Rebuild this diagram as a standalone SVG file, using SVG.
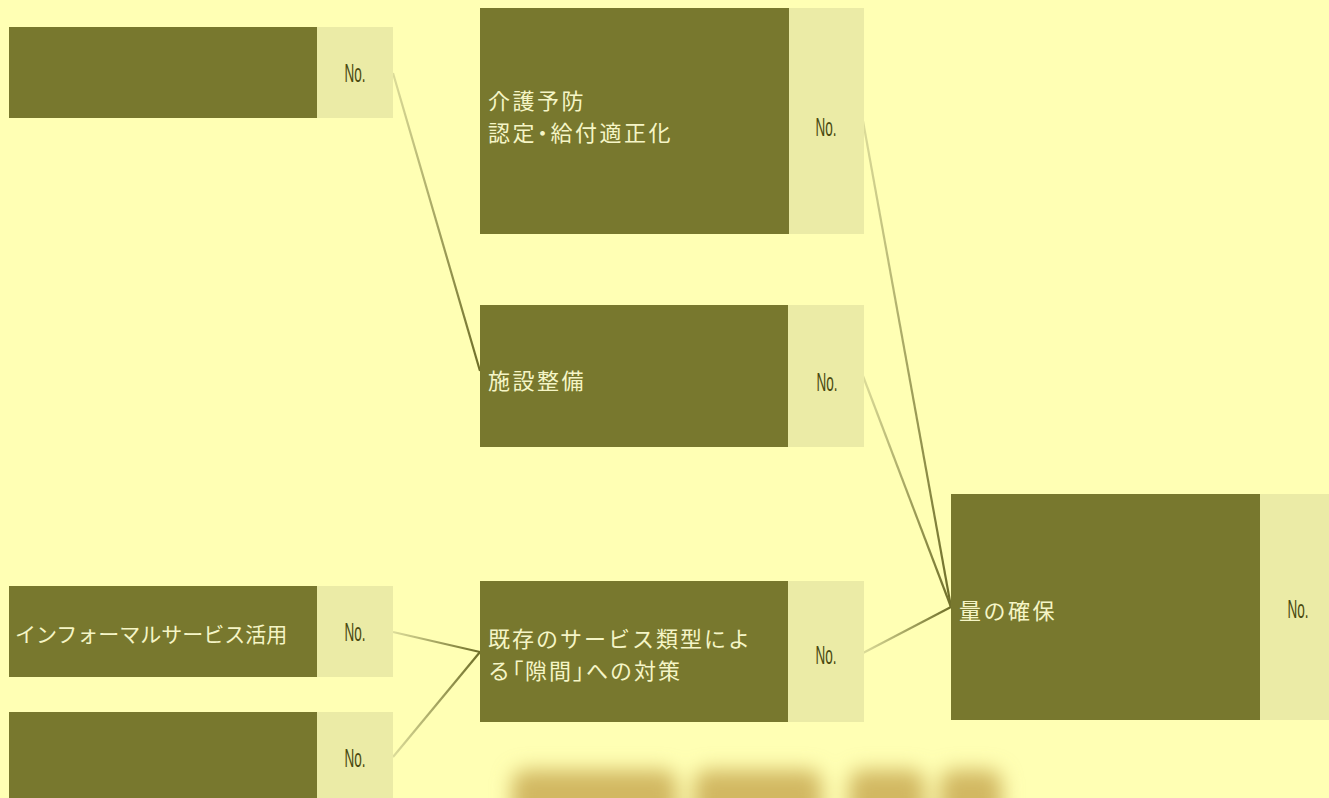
<svg xmlns="http://www.w3.org/2000/svg" xmlns:xlink="http://www.w3.org/1999/xlink" width="1329" height="798" viewBox="0 0 1329 798">
<style>
.dark{fill:#78782e}
.light{fill:#ebeba6}
.lbl{fill:#f5f5c6;font-family:"Noto Sans CJK JP","Noto Sans",sans-serif;font-size:22px;letter-spacing:2.5px}
.p{font-feature-settings:"palt"}
.no{fill:#4a4a10;font-family:"Liberation Sans",Arial,sans-serif;font-size:25px;text-anchor:middle}
.conn line{stroke-width:2.2;fill:none}
</style>
<defs>
<linearGradient id="g" gradientUnits="userSpaceOnUse">
<stop offset="0" stop-color="#dcdc9a"/>
<stop offset="1" stop-color="#6e6e28"/>
</linearGradient>
<linearGradient id="g1" href="#g" xlink:href="#g" x1="393" y1="73" x2="480" y2="371"/>
<linearGradient id="g2" href="#g" xlink:href="#g" x1="863" y1="121" x2="951" y2="607"/>
<linearGradient id="g3" href="#g" xlink:href="#g" x1="863" y1="376" x2="951" y2="607"/>
<linearGradient id="g4" href="#g" xlink:href="#g" x1="863" y1="653" x2="951" y2="607"/>
<linearGradient id="g5" href="#g" xlink:href="#g" x1="393" y1="632" x2="480" y2="652"/>
<linearGradient id="g6" href="#g" xlink:href="#g" x1="393" y1="757" x2="480" y2="652"/>
<filter id="blur" x="-30%" y="-60%" width="160%" height="220%"><feGaussianBlur stdDeviation="10"/></filter>
</defs>
<rect x="0" y="0" width="1329" height="798" fill="#ffffb4"/>
<g id="blobs" filter="url(#blur)" fill="#d2b862">
<rect x="512" y="770" width="165" height="60" rx="14"/>
<rect x="694" y="770" width="128" height="60" rx="14"/>
<rect x="849" y="770" width="76" height="60" rx="14"/>
<rect x="940" y="770" width="62" height="60" rx="14"/>
</g>
<g id="connectors" class="conn">
<line x1="393" y1="73" x2="480" y2="371" stroke="url(#g1)"/>
<line x1="863" y1="121" x2="951" y2="607" stroke="url(#g2)"/>
<line x1="863" y1="376" x2="951" y2="607" stroke="url(#g3)"/>
<line x1="863" y1="653" x2="951" y2="607" stroke="url(#g4)"/>
<line x1="393" y1="632" x2="480" y2="652" stroke="url(#g5)"/>
<line x1="393" y1="757" x2="480" y2="652" stroke="url(#g6)"/>
</g>
<g id="node-topleft">
<rect class="dark" x="9" y="27" width="308" height="91"/>
<rect class="light" x="317" y="27" width="76" height="91"/>
<text class="no" x="355" y="82" textLength="21" lengthAdjust="spacingAndGlyphs">No.</text>
</g>
<g id="node-kaigo">
<rect class="dark" x="480" y="8" width="309" height="226"/>
<rect class="light" x="789" y="8" width="75" height="226"/>
<text class="lbl" x="488" y="109">介護予防</text>
<text class="lbl" x="488" y="141">認定<tspan class="p">・</tspan>給付適正化</text>
<text class="no" x="826" y="136" textLength="21" lengthAdjust="spacingAndGlyphs">No.</text>
</g>
<g id="node-shisetsu">
<rect class="dark" x="480" y="305" width="308" height="142"/>
<rect class="light" x="788" y="305" width="76" height="142"/>
<text class="lbl" x="488" y="389">施設整備</text>
<text class="no" x="827" y="391" textLength="21" lengthAdjust="spacingAndGlyphs">No.</text>
</g>
<g id="node-kizon">
<rect class="dark" x="480" y="581" width="308" height="141"/>
<rect class="light" x="788" y="581" width="76" height="141"/>
<text class="lbl" x="488" y="647" style="letter-spacing:2px">既存のサービス類型によ</text>
<text class="lbl" x="488" y="679" style="letter-spacing:2px">る<tspan class="p">「</tspan>隙間<tspan class="p">」</tspan>への対策</text>
<text class="no" x="826" y="664" textLength="21" lengthAdjust="spacingAndGlyphs">No.</text>
</g>
<g id="node-ryou">
<rect class="dark" x="951" y="494" width="309" height="226"/>
<rect class="light" x="1260" y="494" width="69" height="226"/>
<text class="lbl" x="959" y="619">量の確保</text>
<text class="no" x="1298" y="618" textLength="21" lengthAdjust="spacingAndGlyphs">No.</text>
</g>
<g id="node-informal">
<rect class="dark" x="9" y="586" width="308" height="91"/>
<rect class="light" x="317" y="586" width="76" height="91"/>
<text class="lbl" x="15" y="642" style="font-size:21px;letter-spacing:0">インフォーマルサービス活用</text>
<text class="no" x="355" y="641" textLength="21" lengthAdjust="spacingAndGlyphs">No.</text>
</g>
<g id="node-bottomleft">
<rect class="dark" x="9" y="712" width="308" height="90"/>
<rect class="light" x="317" y="712" width="76" height="90"/>
<text class="no" x="355" y="767" textLength="21" lengthAdjust="spacingAndGlyphs">No.</text>
</g>
</svg>
